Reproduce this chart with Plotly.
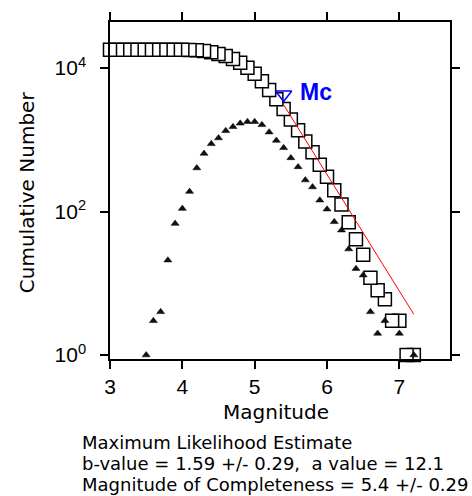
import numpy as np
import plotly.graph_objects as go

# ---- data ----
cum_mag = [3.0, 3.1, 3.2, 3.3, 3.4, 3.5, 3.6, 3.7, 3.8, 3.9,
           4.0, 4.1, 4.2, 4.3, 4.4, 4.5, 4.6, 4.7, 4.8, 4.9,
           5.0, 5.1, 5.2, 5.3, 5.4, 5.5, 5.6, 5.7, 5.8, 5.9,
           6.0, 6.1, 6.2, 6.3, 6.4, 6.5, 6.6, 6.7, 6.8, 6.9,
           7.0, 7.1, 7.2]
cum_count = [18107, 18107, 18107, 18107, 18107, 18107, 18106, 18103, 18099, 18078,
             18010, 17900, 17710, 17305, 16660, 15780, 14720, 13380, 11860, 10160,
             8370, 6580, 4960, 3680, 2700, 1925, 1365, 945, 670, 450,
             306, 198, 126, 71, 41, 25, 12, 8, 6, 3,
             3, 1, 1]

tri_mag = [3.5, 3.6, 3.7, 3.8, 3.9, 4.0, 4.1, 4.2, 4.3, 4.4,
           4.5, 4.6, 4.7, 4.8, 4.9, 5.0, 5.1, 5.2, 5.3, 5.4,
           5.5, 5.6, 5.7, 5.8, 5.9, 6.0, 6.1, 6.2, 6.3, 6.4,
           6.5, 6.6, 6.7, 6.8, 7.0, 7.2]
tri_count = [1, 3, 4, 21, 68, 110, 190, 405, 645, 880,
             1060, 1340, 1520, 1700, 1790, 1790, 1620, 1280, 980, 775,
             560, 420, 275, 220, 144, 108, 72, 55, 30, 16,
             13, 4, 2, 3, 2, 1]

fit_mag = [5.4, 7.2]
fit_count = [3090, 3.7]

mc_mag = [5.4]
mc_count = [4300]

x_tickvals = [3, 4, 5, 6, 7]
x_ticktext = ["3", "4", "5", "6", "7"]
y_tickvals = [1, 100, 10000]
y_ticktext = ["10<sup>0</sup>", "10<sup>2</sup>", "10<sup>4</sup>"]

info_lines = [
    "Maximum Likelihood Estimate",
    "b-value = 1.59 +/- 0.29,  a value = 12.1",
    "Magnitude of Completeness = 5.4 +/- 0.29",
]

TICKFONT = dict(family="Liberation Sans, Arial, sans-serif", size=21, color="black")
LABELFONT = dict(family="DejaVu Sans, sans-serif", size=20, color="black")
INFOFONT = dict(family="DejaVu Sans, sans-serif", size=18, color="black")

fig = go.Figure()

# cumulative (white squares, lower magnitudes drawn on top)
fig.add_trace(go.Scatter(
    x=cum_mag[::-1], y=cum_count[::-1], mode="markers",
    marker=dict(symbol="square", size=13, color="white",
                line=dict(color="black", width=1.5)),
    cliponaxis=False, showlegend=False, hoverinfo="x+y"))

# fit line
fig.add_trace(go.Scatter(
    x=fit_mag, y=fit_count, mode="lines",
    line=dict(color="red", width=1), showlegend=False))

# non-cumulative
fig.add_trace(go.Scatter(
    x=tri_mag, y=tri_count, mode="markers",
    marker=dict(symbol="triangle-up", size=7, color="#111111",
                line=dict(color="black", width=0.5)),
    cliponaxis=False, showlegend=False))

# Mc marker
fig.add_trace(go.Scatter(
    x=mc_mag, y=mc_count, mode="markers",
    marker=dict(symbol="triangle-down-open", size=14,
                line=dict(color="blue", width=1.5), color="blue"),
    cliponaxis=False, showlegend=False))

axis_common = dict(
    showline=True, linecolor="black", linewidth=1.5, mirror="ticks",
    ticks="outside", ticklen=8, tickwidth=1.5, tickcolor="black",
    showgrid=False, zeroline=False, tickfont=TICKFONT,
)

fig.update_layout(
    width=472, height=496, autosize=False,
    margin=dict(l=110, r=22, t=15, b=137),
    paper_bgcolor="white", plot_bgcolor="white",
    xaxis=dict(range=[3.0, 7.70], tickmode="array",
               tickvals=x_tickvals, ticktext=x_ticktext, **axis_common),
    yaxis=dict(type="log", range=[-0.055, 4.643], tickmode="array",
               tickvals=y_tickvals, ticktext=y_ticktext,
               ticklabelstandoff=10, **axis_common),
)

annotations = [
    dict(text="Cumulative Number", xref="paper", yref="paper",
         x=-0.244, y=0.495, textangle=-90, showarrow=False,
         xanchor="center", yanchor="middle", font=LABELFONT),
    dict(text="Magnitude", xref="paper", yref="paper",
         x=0.488, y=-0.156, showarrow=False,
         xanchor="center", yanchor="middle", font=LABELFONT),
    dict(text="<b>Mc</b>", x=mc_mag[0], y=np.log10(mc_count[0]),
         xref="x", yref="y", showarrow=False, xanchor="left",
         yanchor="middle", xshift=14, yshift=2,
         font=dict(family="Liberation Sans, Arial, sans-serif", size=23, color="blue")),
]
for line, ypos in zip(info_lines, [-0.247, -0.311, -0.372]):
    annotations.append(dict(text=line, xref="paper", yref="paper",
                            x=-0.0882, y=ypos, showarrow=False,
                            xanchor="left", yanchor="middle", align="left",
                            font=INFOFONT))
fig.update_layout(annotations=annotations)

fig.write_html("out.html", config={"displayModeBar": False},
               post_script="document.body.style.margin='0';document.body.style.overflow='hidden';")
